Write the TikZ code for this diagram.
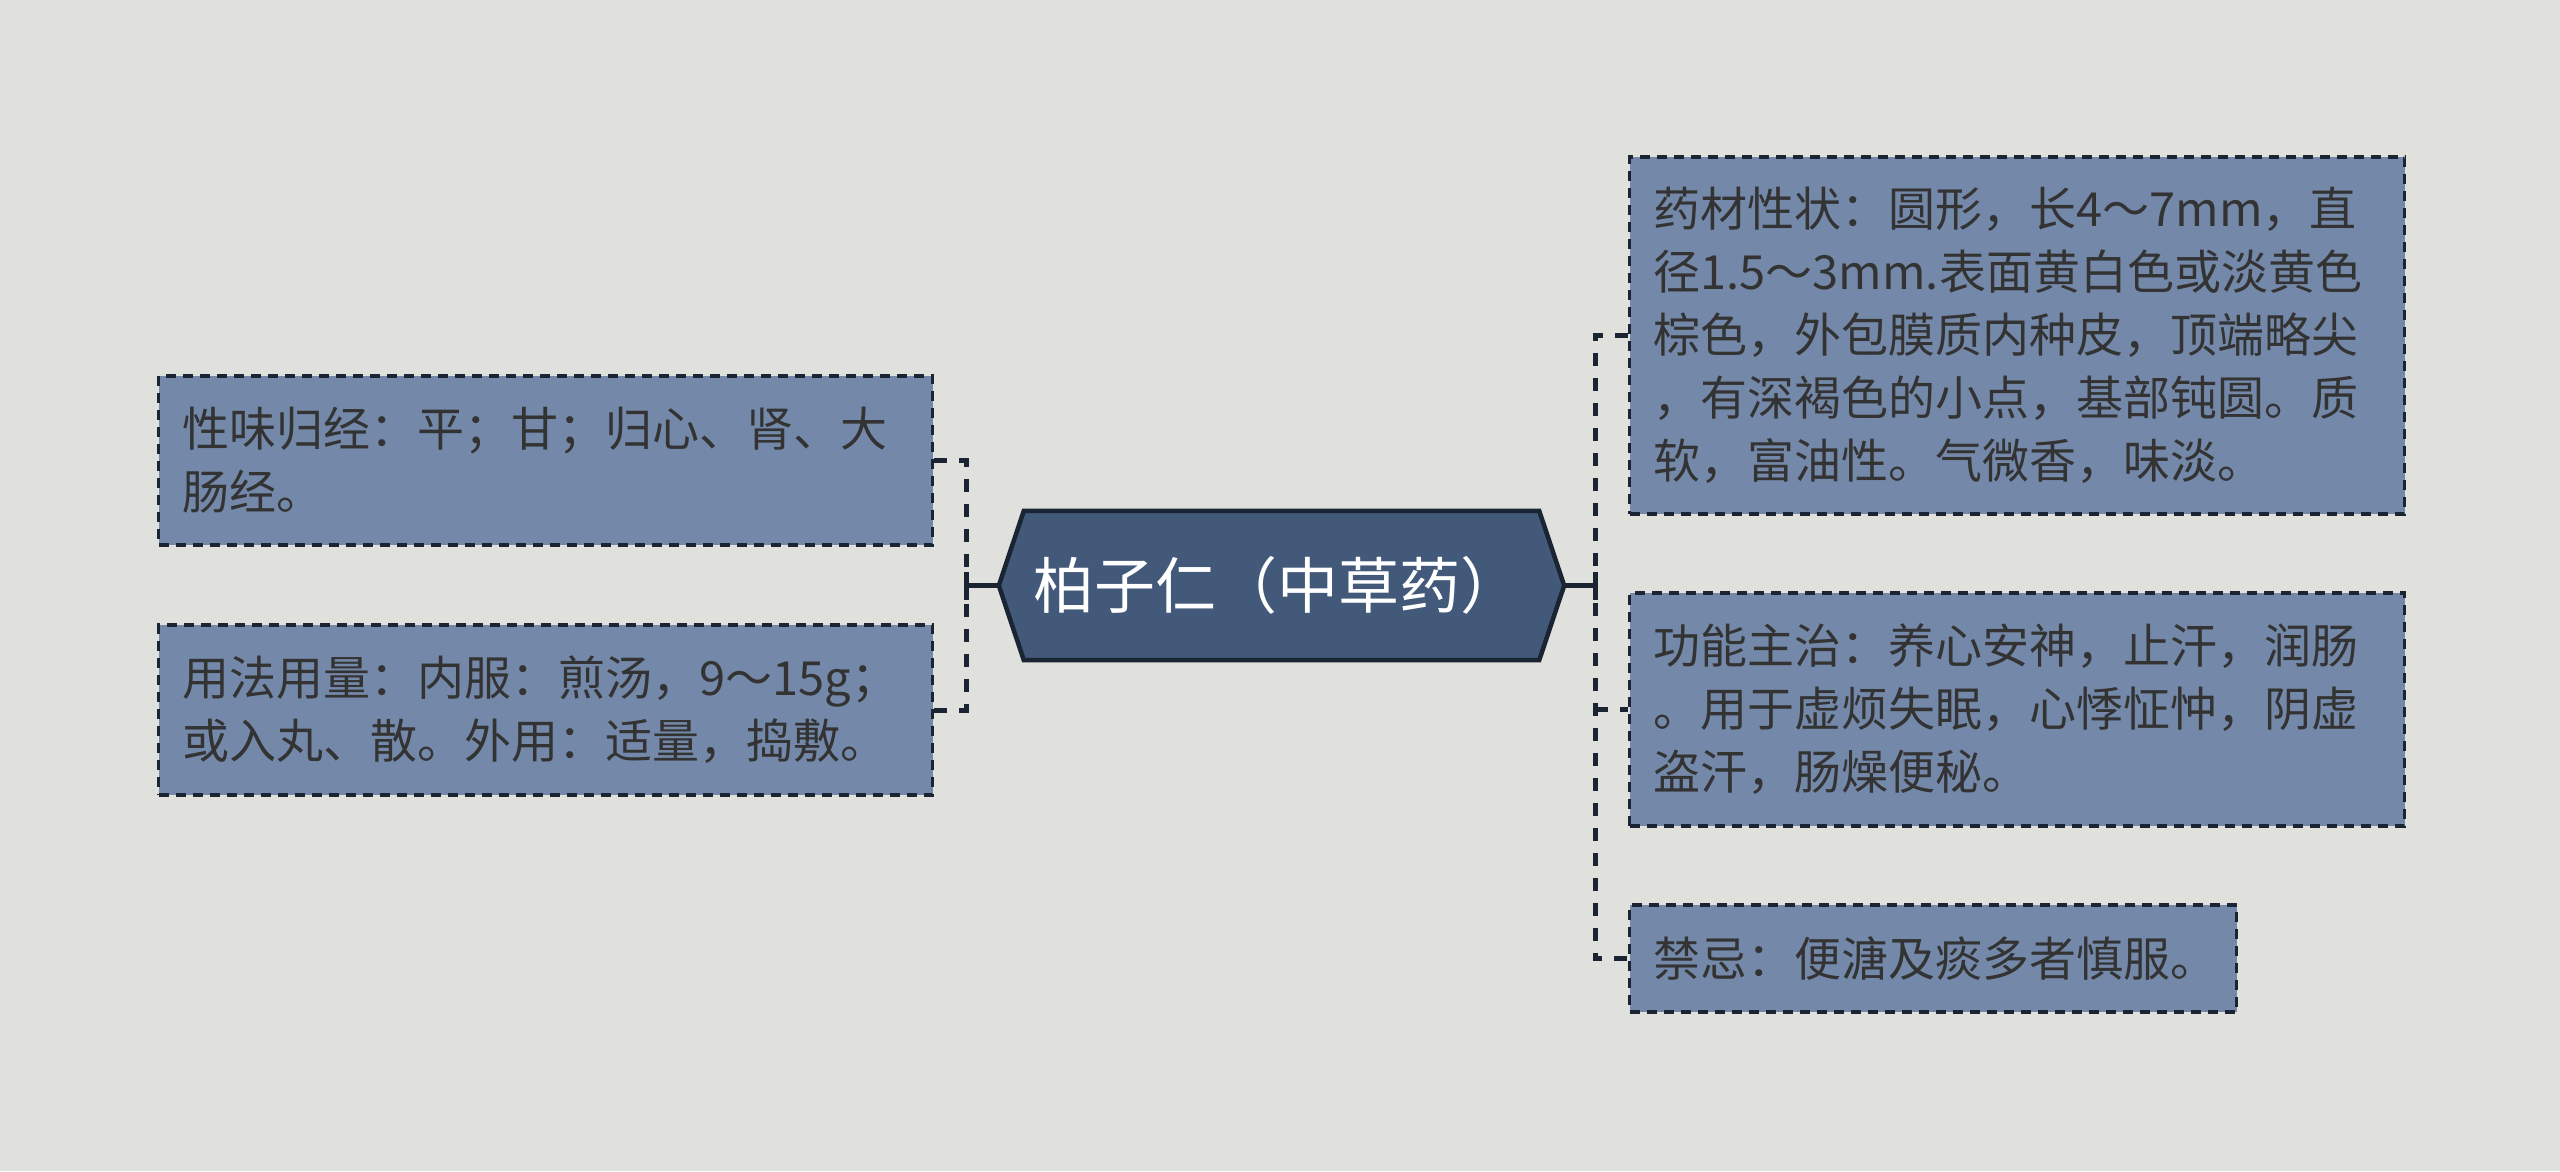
\documentclass[tikz,border=0pt]{standalone}
\usepackage{fontspec}
\setmainfont{Noto Sans CJK SC}
\usetikzlibrary{backgrounds}
\definecolor{bgc}{HTML}{E0E1DD}
\definecolor{boxfill}{HTML}{7489A9}
\definecolor{cfill}{HTML}{42597A}
\definecolor{edgec}{HTML}{1A2433}
\definecolor{txtc}{HTML}{333333}
\tikzset{
  leaf/.style={draw=edgec, fill=boxfill, line width=3.2pt, dash pattern=on 10pt off 7pt,
    text=txtc, font=\fontsize{47}{63}\selectfont, align=left, anchor=west,
    inner xsep=24pt, inner ysep=0pt},
  conn/.style={draw=edgec, line width=5pt, dash pattern=on 13pt off 12pt},
  solidconn/.style={draw=edgec, line width=5pt},
}
\begin{document}
\begin{tikzpicture}[x=1pt,y=-1pt]
\begin{scope}[on background layer]
\fill[bgc] (0,0) rectangle (2560,1171);
\end{scope}
\useasboundingbox (0,0) rectangle (2560,1171);

% central node
\node[minimum width=515pt, minimum height=149pt, inner sep=0pt, text=white,
  font=\fontsize{61}{66}\selectfont] (c) at (1281.5,585.5) {\hspace*{-8pt}柏子仁（中草药）};
\begin{scope}[on background layer]
\draw[fill=cfill, draw=edgec, line width=4.5pt, line join=miter]
  (c.north west) -- (c.north east) -- ([xshift=25pt]c.east) -- (c.south east)
  -- (c.south west) -- ([xshift=-25pt]c.west) -- cycle;
\end{scope}
\coordinate (ltip) at ([xshift=-25pt]c.west);
\coordinate (rtip) at ([xshift=25pt]c.east);

% left leaves
\node[leaf, text width=726pt, minimum height=169pt] (l1) at (157,460.5)
  {性味归经：平；甘；归心、肾、大\\肠经。};
\node[leaf, text width=726pt, minimum height=170pt] (l2) at (157,710)
  {用法用量：内服：煎汤，9～15g；\\或入丸、散。外用：适量，捣敷。};

% right leaves
\node[leaf, text width=727pt, minimum height=357pt] (r1) at (1628,335.5)
  {药材性状：圆形，长4～7mm，直\\径1.5～3mm.表面黄白色或淡黄色\\棕色，外包膜质内种皮，顶端略尖\\，有深褐色的小点，基部钝圆。质\\软，富油性。气微香，味淡。};
\node[leaf, text width=727pt, minimum height=233pt] (r2) at (1628,709.5)
  {功能主治：养心安神，止汗，润肠\\。用于虚烦失眠，心悸怔忡，阴虚\\盗汗，肠燥便秘。};
\node[leaf, text width=559pt, minimum height=107pt] (r3) at (1628,958.5)
  {禁忌：便溏及痰多者慎服。};

% buses
\coordinate (lb) at (966,585.5);
\coordinate (rb) at (1595,585.5);
\coordinate (lbt) at (966,460.5);
\coordinate (lbb) at (966,710);
\coordinate (rbt) at (1595,335.5);
\coordinate (rbb) at (1595,958.5);

\draw[conn] (l1.east) -- (lbt) -- (lbb) -- (l2.east);
\draw[conn] (r1.west) -- (rbt) -- (rbb) -- (r3.west);
\draw[conn] (rb |- r2.west) -- (r2.west);

\draw[solidconn] (ltip) -- (lb);
\draw[solidconn] ([yshift=-14pt]lb) -- ([yshift=14pt]lb);
\draw[solidconn] (rtip) -- (rb);
\draw[solidconn] ([yshift=-14pt]rb) -- ([yshift=14pt]rb);
\end{tikzpicture}
\end{document}
